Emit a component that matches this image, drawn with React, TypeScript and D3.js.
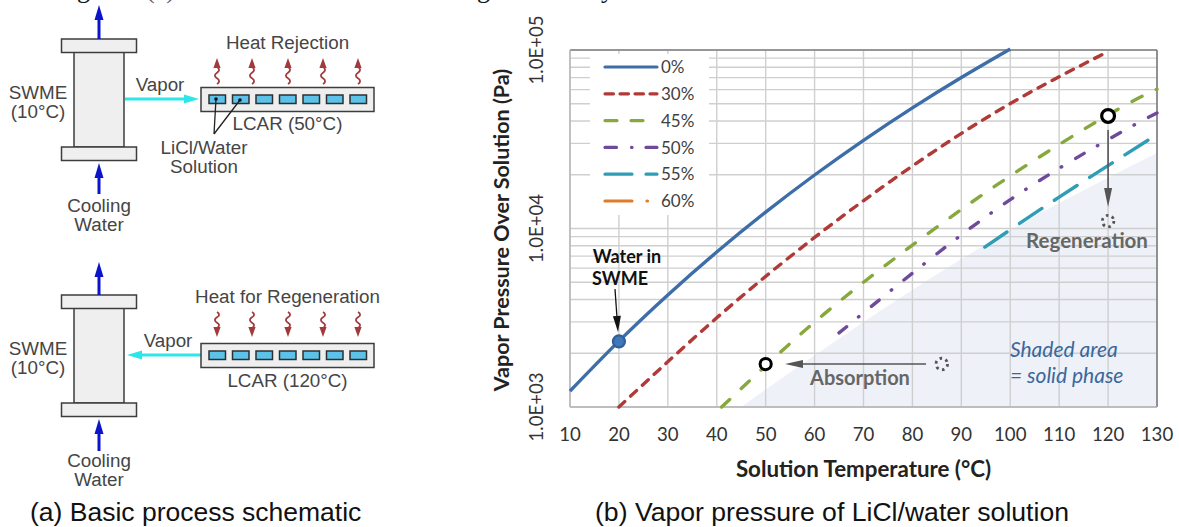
import React from "react";
import * as d3 from "d3";

const W = 1179, H = 527;

const temps0 = [10, 20, 30, 40, 50, 60, 70, 80, 90, 100];
const p0 = [1228, 2339, 4246, 7384, 12350, 19940, 31190, 47410, 70180, 101420];
const temps30 = [20, 40, 60, 80, 100, 120];
const p30 = [1000, 3160, 8910, 22390, 50100, 98000];
const temps45 = [41, 60, 80, 100, 120, 130];
const p45 = [1000, 2990, 8070, 19700, 43300, 60300];
const temps50 = [65, 80, 100, 120, 130];
const p50 = [2600, 5620, 14500, 31500, 44400];
const temps55 = [94.8, 110, 128.6];
const p55 = [7870, 15000, 31800];
const temps60: number[] = [];
const p60: number[] = [];
const solidT = [45, 70, 100, 130];
const solidP = [1000, 2990, 9800, 26500];

const seriesNames = ["0%", "30%", "45%", "50%", "55%", "60%"];
const seriesColors = ["#3d6ea8", "#b03a38", "#86a83c", "#6f4a9a", "#2f9db5", "#e07b2a"];
const seriesDash = ["none", "8 8", "11 16", "10 15.5 0.5 16", "27 15", "27 15 0.5 15"];
const legendDash = ["none", "8.5 6.5", "12 14", "11.5 15 0.5 14", "27 14", "27 15 0.5 30"];
const seriesT = [temps0, temps30, temps45, temps50, temps55, temps60];
const seriesP = [p0, p30, p45, p50, p55, p60];
const xTicks = [10, 20, 30, 40, 50, 60, 70, 80, 90, 100, 110, 120, 130];
const yMajor = [1e3, 1e4, 1e5];

const waterPoint = [20, 2330];
const absorbPoint = [50, 1740];
const absorbGhost = [86, 1740];
const regenPoint = [120, 42700];
const regenGhost = [120, 11000];

const x = d3.scaleLinear().domain([10, 130]).range([570, 1157]);
const y = d3.scaleLog().domain([1e3, 1e5]).range([407, 50]);
const yMinor = d3.range(0, 2).flatMap((d) => d3.range(2, 10).map((m) => m * 10 ** (3 + d)));

const line = d3
  .line<[number, number]>()
  .x((d) => x(d[0]))
  .y((d) => y(d[1]))
  .curve(d3.curveNatural);

const UI = "Lato, sans-serif";
const AR = "'Liberation Sans', Arial, sans-serif";
const TXT = "#454545";

function Arrow({ x1, y1, x2, y2, color, w, hl, hw }: any) {
  const a = Math.atan2(y2 - y1, x2 - x1);
  const bx = x2 - hl * Math.cos(a);
  const by = y2 - hl * Math.sin(a);
  const nx = -Math.sin(a) * hw;
  const ny = Math.cos(a) * hw;
  return (
    <g>
      <line x1={x1} y1={y1} x2={bx} y2={by} stroke={color} strokeWidth={w} />
      <polygon points={`${x2},${y2} ${bx + nx},${by + ny} ${bx - nx},${by - ny}`} fill={color} />
    </g>
  );
}

function Wavy({ cx, top, bottom, up }: any) {
  const color = "#a23a3c";
  const tip = up ? top : bottom;
  const tail = up ? bottom : top;
  const dir = up ? 1 : -1;
  const base = tip + dir * 9;
  const n = 3;
  const step = (tail - base) / n;
  let d = `M${cx},${base}`;
  for (let i = 0; i < n; i++) {
    const s = i % 2 === 0 ? 2.8 : -2.8;
    d += ` C${cx + s},${base + step * (i + 0.3)} ${cx + s},${base + step * (i + 0.7)} ${cx},${base + step * (i + 1)}`;
  }
  return (
    <g>
      <path d={d} fill="none" stroke={color} strokeWidth={1.8} />
      <polygon points={`${cx},${tip} ${cx - 3.6},${base + dir} ${cx + 3.6},${base + dir}`} fill={color} />
    </g>
  );
}

function Column({ top }: { top: number }) {
  return (
    <g fill="#efefef" stroke="#3d3d3d" strokeWidth={1.5}>
      <rect x={74} y={top + 13} width={50} height={95} />
      <rect x={61.5} y={top} width={75} height={13.5} />
      <rect x={61.5} y={top + 108} width={75} height={13.5} />
    </g>
  );
}

function Bar({ top }: { top: number }) {
  const cells = [209, 232.5, 256, 279.5, 303, 326.5, 350];
  return (
    <g>
      <rect x={201} y={top} width={173} height={24} fill="#eeeeee" stroke="#3d3d3d" strokeWidth={1.5} />
      {cells.map((c) => (
        <rect key={c} x={c} y={top + 7.5} width={16.5} height={8.5} fill="#5cc2ea" stroke="#2f2f2f" strokeWidth={1.5} />
      ))}
    </g>
  );
}

function Label({ x: tx, y: ty, children, size = 18.8, anchor = "middle" }: any) {
  return (
    <text x={tx} y={ty} fontFamily={AR} fontSize={size} fill={TXT} textAnchor={anchor}>
      {children}
    </text>
  );
}

function Schematic() {
  const heat = [217, 252, 288, 323, 358];
  const SERIF = "'Liberation Serif', serif";
  return (
    <g>
      <text x={77} y={-2.5} fontFamily={SERIF} fontSize={26} fill="#111">g</text>
      <text x={146} y={-2.5} fontFamily={SERIF} fontSize={26} fill="#555">(a)</text>
      <text x={477} y={-2.5} fontFamily={SERIF} fontSize={26} fill="#111">g</text>
      <text x={601} y={-2.5} fontFamily={SERIF} fontSize={26} fill="#111">y</text>

      <Column top={39} />
      <Arrow x1={99} y1={39} x2={99} y2={5} color="#0b14c8" w={3} hl={15} hw={4.5} />
      <Arrow x1={99} y1={194} x2={99} y2={163} color="#0b14c8" w={3} hl={15} hw={4.5} />
      <Label x={38} y={99}>SWME</Label>
      <Label x={38} y={118}>(10°C)</Label>
      <Label x={99} y={212}>Cooling</Label>
      <Label x={99} y={231}>Water</Label>
      <Arrow x1={125} y1={99} x2={199} y2={99} color="#2ce6ea" w={3} hl={15} hw={4.5} />
      <Label x={160} y={91}>Vapor</Label>
      <Bar top={87.5} />
      {heat.map((h) => <Wavy key={h} cx={h} top={58} bottom={84} up />)}
      <Label x={287.5} y={49}>Heat Rejection</Label>
      <Label x={287.5} y={130}>LCAR (50°C)</Label>
      <path d="M214,134 L216,99 M214,134 L240,100" fill="none" stroke="#222" strokeWidth={1.3} />
      <circle cx={216} cy={99} r={1.8} fill="#111" />
      <circle cx={240} cy={100} r={1.8} fill="#111" />
      <Label x={204} y={154}>LiCl/Water</Label>
      <Label x={204} y={173}>Solution</Label>

      <Column top={295} />
      <Arrow x1={99} y1={295} x2={99} y2={262} color="#0b14c8" w={3} hl={15} hw={4.5} />
      <Arrow x1={99} y1={451} x2={99} y2={419} color="#0b14c8" w={3} hl={15} hw={4.5} />
      <Label x={38} y={355}>SWME</Label>
      <Label x={38} y={374}>(10°C)</Label>
      <Label x={99} y={467}>Cooling</Label>
      <Label x={99} y={486}>Water</Label>
      <Arrow x1={201} y1={355} x2={127} y2={355} color="#2ce6ea" w={3} hl={15} hw={4.5} />
      <Label x={168} y={347}>Vapor</Label>
      <Bar top={343.5} />
      {heat.map((h) => <Wavy key={h} cx={h} top={312} bottom={337} up={false} />)}
      <Label x={287.5} y={303}>Heat for Regeneration</Label>
      <Label x={287.5} y={387}>LCAR (120°C)</Label>

      <text x={30} y={521} fontFamily={AR} fontSize={26.5} fill="#111">(a) Basic process schematic</text>
      <text x={595} y={521} fontFamily={AR} fontSize={26.6} fill="#111">(b) Vapor pressure of LiCl/water solution</text>
    </g>
  );
}

function DashedRing({ cx, cy }: { cx: number; cy: number }) {
  return <circle cx={cx} cy={cy} r={5.8} fill="none" stroke="#555" strokeWidth={2.8} strokeDasharray="2.6 3.5" />;
}

function Chart() {
  const solidPts = solidT.map((t, i) => [t, solidP[i]] as [number, number]);
  const solid = line(solidPts) + ` L${x(130)},${y(1e3)} Z`;
  const [x0, x1] = x.range();
  const [y0, y1] = y.range();
  return (
    <g>
      <path d={solid} fill="#eef1f7" />
      <g stroke="#cfcfcf" strokeWidth={1.4}>
        {yMinor.map((v) => <line key={v} x1={x0} x2={x1} y1={y(v)} y2={y(v)} />)}
        {yMajor.map((v) => <line key={v} x1={x0} x2={x1} y1={y(v)} y2={y(v)} />)}
        {xTicks.map((v) => <line key={v} x1={x(v)} x2={x(v)} y1={y0} y2={y1} />)}
      </g>
      <line x1={x0} x2={x1} y1={y1} y2={y1} stroke="#555" strokeWidth={1.2} />
      <line x1={x1} x2={x1} y1={y1} y2={y0} stroke="#777" strokeWidth={1.5} />
      <line x1={x0} x2={x0} y1={y1} y2={y0} stroke="#b5b5b5" strokeWidth={1.4} />
      <line x1={x0} x2={x1} y1={y0} y2={y0} stroke="#b5b5b5" strokeWidth={1.4} />

      <rect x={590} y={54} width={119} height={161} fill="#fff" />

      {seriesT.map((ts, i) =>
        ts.length ? (
          <path
            key={seriesNames[i]}
            d={line(ts.map((t, k) => [t, seriesP[i][k]] as [number, number])) ?? ""}
            fill="none"
            stroke={seriesColors[i]}
            strokeWidth={3.4}
            strokeLinecap={i === 0 ? "butt" : "round"}
            strokeDasharray={seriesDash[i]}
          />
        ) : null
      )}

      {seriesNames.map((n, i) => {
        const ly = 67 + i * 26.8;
        return (
          <g key={n}>
            <line x1={605} x2={657} y1={ly} y2={ly} stroke={seriesColors[i]} strokeWidth={3.2} strokeLinecap="round"
              strokeDasharray={legendDash[i] === "none" ? undefined : legendDash[i]} />
            <text x={661} y={ly + 6.2} fontFamily={UI} fontSize={17} fill="#3f3f3f">{n}</text>
          </g>
        );
      })}

      {xTicks.map((v) => (
        <text key={v} x={x(v)} y={441} textAnchor="middle" fontFamily={UI} fontSize={18.6} fill="#333">{v}</text>
      ))}
      {yMajor.map((v) => (
        <text key={v} transform={`translate(543,${y(v)}) rotate(-90)`} textAnchor="middle" fontFamily={UI} fontSize={18.6} fill="#333">
          {`1.0E+0${Math.log10(v)}`}
        </text>
      ))}
      <text x={863.5} y={476.5} textAnchor="middle" fontFamily={UI} fontWeight={700} fontSize={22.3} fill="#222">Solution Temperature (°C)</text>
      <text transform="translate(509,230) rotate(-90)" textAnchor="middle" fontFamily={UI} fontWeight={700} fontSize={21.5} fill="#222">Vapor Pressure Over Solution (Pa)</text>

      <text x={627} y={263} textAnchor="middle" fontFamily={UI} fontWeight={700} fontSize={18} fill="#111">Water in</text>
      <text x={620} y={285} textAnchor="middle" fontFamily={UI} fontWeight={700} fontSize={18} fill="#111">SWME</text>
      <Arrow x1={615} y1={289} x2={618} y2={332} color="#111" w={1.3} hl={16} hw={4} />
      <circle cx={x(waterPoint[0])} cy={y(waterPoint[1])} r={6} fill="#3f78b8" stroke="#2f5f98" strokeWidth={2.2} />

      <circle cx={x(absorbPoint[0])} cy={y(absorbPoint[1])} r={5.6} fill="#fff" stroke="#000" strokeWidth={3} />
      <Arrow x1={926} y1={y(absorbPoint[1])} x2={785} y2={y(absorbPoint[1])} color="#555" w={1.6} hl={18} hw={4} />
      <DashedRing cx={x(absorbGhost[0])} cy={y(absorbGhost[1])} />
      <text x={860} y={385} textAnchor="middle" fontFamily={UI} fontWeight={700} fontSize={20} fill="#666">Absorption</text>

      <circle cx={x(regenPoint[0])} cy={y(regenPoint[1])} r={6.4} fill="#fff" stroke="#000" strokeWidth={3.2} />
      <Arrow x1={x(regenPoint[0])} y1={130} x2={x(regenPoint[0])} y2={207} color="#555" w={1.6} hl={19} hw={4} />
      <DashedRing cx={x(regenGhost[0])} cy={y(regenGhost[1])} />
      <text x={1087} y={248} textAnchor="middle" fontFamily={UI} fontWeight={700} fontSize={20.5} fill="#666">Regeneration</text>

      <text x={1010} y={357} fontFamily={UI} fontStyle="italic" fontSize={21} fill="#3a679d">Shaded area</text>
      <text x={1010} y={383} fontFamily={UI} fontStyle="italic" fontSize={21} fill="#3a679d">= solid phase</text>
    </g>
  );
}

export default function App() {
  return (
    <svg width={W} height={H} viewBox={`0 0 ${W} ${H}`} style={{ position: "absolute", left: 0, top: 0, background: "#fff" }}>
      <Schematic />
      <Chart />
    </svg>
  );
}
